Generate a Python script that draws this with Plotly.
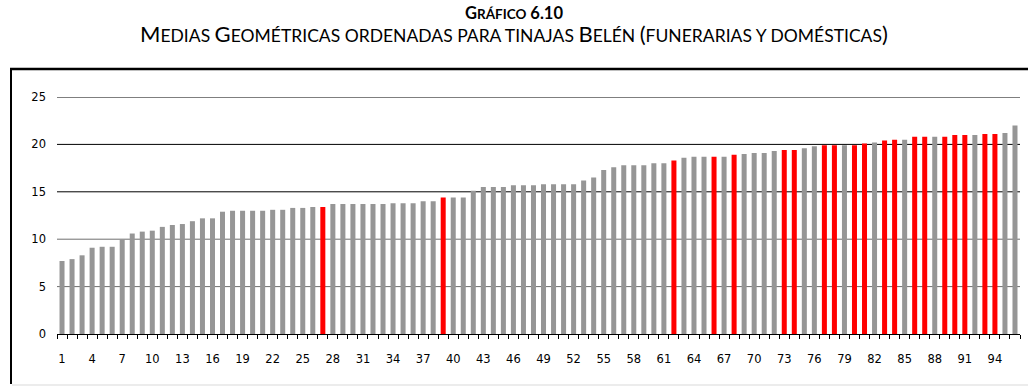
import plotly.graph_objects as go

# Medias geométricas ordenadas (tinajas Belén)
valores = [
    7.7, 7.9, 8.3, 9.1, 9.2, 9.2, 10.0, 10.6, 10.8, 10.9,
    11.3, 11.5, 11.6, 11.9, 12.2, 12.2, 12.9, 13.0, 13.0, 13.0,
    13.0, 13.1, 13.1, 13.3, 13.3, 13.4, 13.4, 13.7, 13.7, 13.7,
    13.7, 13.7, 13.7, 13.8, 13.8, 13.8, 14.0, 14.0, 14.4, 14.4,
    14.4, 15.1, 15.5, 15.5, 15.5, 15.7, 15.7, 15.7, 15.8, 15.8,
    15.8, 15.8, 16.2, 16.5, 17.3, 17.6, 17.8, 17.8, 17.8, 18.0,
    18.0, 18.3, 18.6, 18.7, 18.7, 18.7, 18.7, 18.9, 19.0, 19.1,
    19.1, 19.3, 19.4, 19.4, 19.6, 19.8, 19.9, 19.9, 19.9, 19.9,
    20.1, 20.2, 20.4, 20.5, 20.5, 20.8, 20.8, 20.8, 20.8, 21.0,
    21.0, 21.0, 21.1, 21.1, 21.2, 22.0,
]
posiciones = list(range(1, len(valores) + 1))

# Posiciones de las tinajas funerarias (en rojo)
funerarias = [27, 39, 62, 66, 68, 73, 74, 77, 78, 80, 81, 83, 84, 86,
              87, 89, 90, 91, 93, 94]

etiquetas_x = list(range(1, 96, 3))
ticks_y = [0, 5, 10, 15, 20, 25]

GRIS = "#969696"
ROJO = "#ff0000"
colores = [ROJO if p in funerarias else GRIS for p in posiciones]

W, H = 1028, 386
# área de trazado en píxeles (izquierda, derecha, arriba, abajo)
PL, PR, PT, PB = 57, 1020, 97, 334


def px_x(v):
    return v / W


def px_y(v):
    return (H - v) / H


fig = go.Figure(
    go.Bar(
        x=posiciones,
        y=valores,
        marker=dict(color=colores, line=dict(width=0)),
        hoverinfo="x+y",
    )
)

# líneas de referencia horizontales (detrás de las barras)
shapes = []
for t in ticks_y[1:]:
    shapes.append(dict(
        type="line", xref="x domain", yref="y", x0=0, x1=1, y0=t, y1=t,
        line=dict(color="#000000" if t >= 15 else "#6e6e6e", width=1),
        layer="below",
    ))

# marco del gráfico: bordes izquierdo y superior
shapes.append(dict(type="line", xref="paper", yref="paper",
                   x0=px_x(10), x1=1, y0=px_y(69), y1=px_y(69),
                   line=dict(color="#000000", width=2.5), layer="above"))
shapes.append(dict(type="line", xref="paper", yref="paper",
                   x0=px_x(11), x1=px_x(11), y0=px_y(68), y1=px_y(384),
                   line=dict(color="#000000", width=2), layer="above"))
# trazo gris claro del borde inferior
shapes.append(dict(type="line", xref="paper", yref="paper",
                   x0=px_x(12), x1=1, y0=px_y(385), y1=px_y(385),
                   line=dict(color="#e6e6e6", width=1.5), layer="above"))

big = 22
small = 17.5
titulo1 = ("<b><span style='font-size:16.5px'>G</span>"
           "<span style='font-size:13.5px'>RÁFICO</span>"
           "<span style='font-size:16.5px'> 6.10</span></b>")


def versalitas(texto):
    partes = []
    for ch in texto:
        if ch.isupper() or ch in "()":
            partes.append(f"<span style='font-size:{big}px'>{ch}</span>")
        else:
            partes.append(f"<span style='font-size:{small}px'>{ch.upper()}</span>")
    return "".join(partes)


titulo2 = versalitas("Medias Geométricas ordenadas para tinajas Belén (funerarias y domésticas)")

annotations = [
    dict(text=titulo1, xref="paper", yref="paper", x=px_x(514),
         y=px_y(13), xanchor="center", yanchor="middle",
         showarrow=False, font=dict(family="Lato", color="#000000")),
    dict(text=titulo2, xref="paper", yref="paper", x=px_x(514),
         y=px_y(34), xanchor="center", yanchor="middle",
         showarrow=False, font=dict(family="Lato", color="#000000")),
]

fig.update_layout(
    width=W, height=H,
    margin=dict(l=0, r=0, t=0, b=0, pad=0, autoexpand=False),
    paper_bgcolor="#ffffff", plot_bgcolor="#ffffff",
    bargap=0.5, showlegend=False,
    shapes=shapes, annotations=annotations,
    font=dict(family="DejaVu Sans", size=11, color="#000000"),
)

fig.update_xaxes(
    domain=[px_x(PL), px_x(PR)], automargin=False,
    range=[0.5, len(valores) + 0.5],
    tickmode="array", tickvals=etiquetas_x,
    ticktext=[str(v) for v in etiquetas_x],
    ticks="", showgrid=False, zeroline=False,
    showline=True, linecolor="#000000", linewidth=1,
    ticklabelstandoff=14,
    minor=dict(ticks="outside", tick0=0.5, dtick=1, ticklen=4,
               tickcolor="#000000", tickwidth=1, showgrid=False),
    tickfont=dict(family="DejaVu Sans", size=11.5),
)
fig.update_yaxes(
    domain=[px_y(PB), px_y(PT)], automargin=False,
    range=[0, 25], tickmode="array", tickvals=ticks_y,
    showgrid=False, zeroline=False, showline=False,
    ticks="", ticklabelstandoff=10,
    tickfont=dict(family="DejaVu Sans", size=11.5),
)

fig.write_html("out.html")
